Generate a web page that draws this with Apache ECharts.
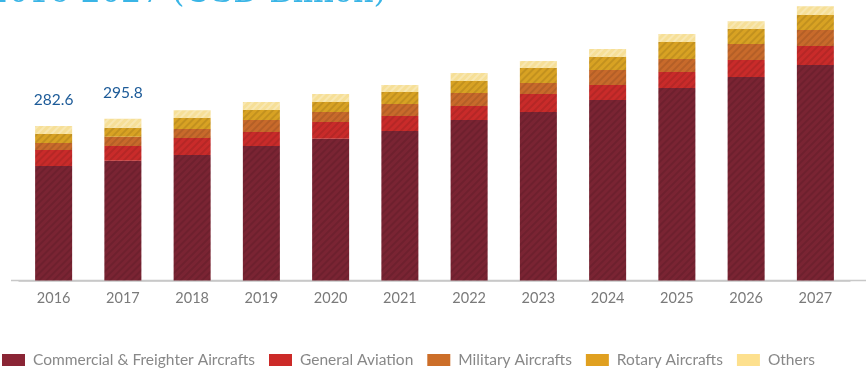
<!DOCTYPE html>
<html><head><meta charset="utf-8">
<script src="https://cdn.jsdelivr.net/npm/echarts@6/dist/echarts.min.js"></script>
<style>html,body{margin:0;padding:0;background:#fff}#c{width:866px;height:370px}</style>
</head><body><div id="c"></div>
<script>
const years = ['2016','2017','2018','2019','2020','2021','2022','2023','2024','2025','2026','2027'];
const commercial = [209.4,218.8,229.6,246.0,259.4,273.5,293.6,308.2,330.2,352.1,372.2,394.2];
const generalAviation = [29.3,27.4,31.1,25.6,30.5,27.4,25.6,32.9,27.4,29.3,31.1,34.8];
const military = [12.8,16.5,16.5,21.9,18.3,21.9,23.8,20.1,27.4,23.8,29.3,29.3];
const rotary = [16.5,16.5,20.1,18.3,18.3,21.9,21.9,27.4,23.8,31.1,27.4,27.4];
const others = [14.6,16.6,14.1,14.6,14.6,12.8,14.6,12.8,14.6,14.6,14.1,15.9];
const totalLabels = ['282.6','295.8','','','','','','','','','',''];
const seriesNames = ['Commercial & Freighter Aircrafts','General Aviation','Military Aircrafts','Rotary Aircrafts','Others'];
const titleText = '2016-2027 (USD Billion)';

const colors = ['#7a2433','#c92b2a','#c86a2b','#d8a223','#f6df97'];
const legendColors = ['#8a2535','#cc2a28','#cc6e29','#e0a020','#fde08e'];
const dataSets = [commercial, generalAviation, military, rotary, others];

function decal(c){
  return {symbol:'rect', symbolSize:1, dashArrayX:[[1,0]], dashArrayY:[2,3], rotation:-Math.PI/4, color:c};
}

const series = dataSets.map((d,i)=>({
  name: seriesNames[i],
  type:'bar',
  stack:'total',
  barWidth:37,
  data:d,
  itemStyle:{color:colors[i], decal: decal(i===4?'rgba(255,255,255,0.25)':'rgba(0,0,0,0.10)')},
  label: i===4 ? {show:true, position:'top', distance:18, color:'#1d5b98', fontSize:15.5, fontFamily:'Lato',
    formatter: p => totalLabels[p.dataIndex]} : {show:false},
  emphasis:{disabled:true}
}));

const chart = echarts.init(document.getElementById('c'));
chart.setOption({
  animation:false,
  aria:{enabled:false},
  graphic:[
    {type:'text', x:386, y:10, style:{text:titleText, textAlign:'right', textVerticalAlign:'bottom', fill:'#3ab5e6', font:'32px "DejaVu Serif"'}},
    {type:'line', shape:{x1:11,y1:280.5,x2:866,y2:280.5}, style:{stroke:'#c8c8c8', lineWidth:1.5}}
  ],
  legend:{
    left:2, top:352, padding:0, itemWidth:23, itemHeight:12, itemGap:14,
    icon:'rect',
    textStyle:{color:'#888', fontSize:15.5, fontFamily:'Lato', padding:[0,0,0,3]},
    data: seriesNames.map((n,i)=>({name:n, itemStyle:{color:legendColors[i], decal:'none'}}))
  },
  grid:{left:19, right:16, top:0, bottom:89.5},
  xAxis:{type:'category', data:years,
    axisLine:{lineStyle:{color:'#c8c8c8', width:1.5}},
    axisTick:{show:false},
    axisLabel:{color:'#7a7a7a', fontSize:14.5, fontFamily:'Lato', margin:10}},
  yAxis:{type:'value', min:0, max:513, show:false, splitLine:{show:false}},
  series
});
</script></body></html>
